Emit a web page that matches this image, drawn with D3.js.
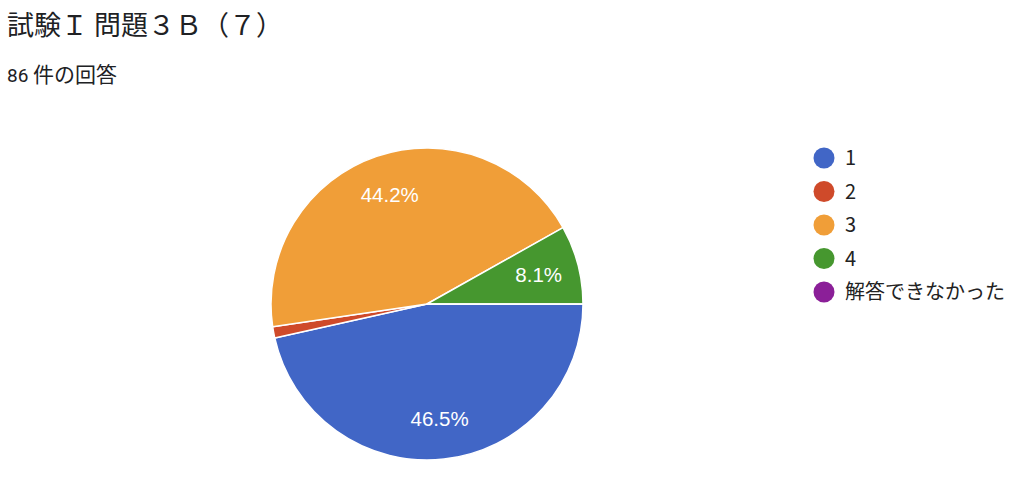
<!DOCTYPE html>
<html><head><meta charset="utf-8">
<script src="https://cdn.jsdelivr.net/npm/d3@7"></script>
<style>
html,body{margin:0;padding:0;background:#fff;}
svg{display:block;}
</style></head>
<body>
<svg id="chart" width="1024" height="479"></svg>
<script>
const titleText = "試験Ｉ 問題３Ｂ（７）";
const subtitleCount = "86 ";
const subtitleText = "件の回答";
const categories = ["1", "2", "3", "4", "解答できなかった"];
const counts = [40, 1, 38, 7, 0];
const colors = ["#4166c6", "#cf4a2a", "#f09e38", "#46972f", "#8b1f98"];

const svg = d3.select("#chart");
const cjk = "'Noto Sans CJK JP', 'Noto Sans', sans-serif";

svg.append("text").attr("x", 7).attr("y", 35)
  .attr("font-family", cjk).attr("font-size", 27).attr("fill", "#202124")
  .text(titleText);

const st = svg.append("text").attr("x", 7).attr("y", 82).attr("fill", "#202124");
st.append("tspan").attr("font-family", "Roboto, sans-serif").attr("font-size", 19)
  .style("white-space", "pre").text(subtitleCount);
st.append("tspan").attr("font-family", cjk).attr("font-size", 21).text(subtitleText);

const cx = 427, cy = 304, r = 156;
const total = d3.sum(counts);
const pie = d3.pie().sort(null).value(d => d)
  .startAngle(Math.PI / 2).endAngle(Math.PI / 2 + 2 * Math.PI);
const arcs = pie(counts);
const arc = d3.arc().innerRadius(0).outerRadius(r);
const labelArc = d3.arc().innerRadius(r * 0.74).outerRadius(r * 0.74);

const g = svg.append("g").attr("transform", `translate(${cx},${cy})`);
g.selectAll("path").data(arcs).join("path")
  .attr("d", arc)
  .attr("fill", (d, i) => colors[i])
  .attr("stroke", "#fff").attr("stroke-width", 1.5).attr("stroke-linejoin", "round");

const fmt = v => (v / total * 100).toFixed(1) + "%";
g.selectAll("text.lbl").data(arcs.filter(d => d.value / total > 0.05)).join("text")
  .attr("class", "lbl")
  .attr("transform", d => `translate(${labelArc.centroid(d)})`)
  .attr("text-anchor", "middle").attr("dy", "0.36em")
  .attr("font-family", "'Liberation Sans', Arial, sans-serif").attr("font-size", 20.5)
  .attr("fill", "#fff")
  .text(d => fmt(d.value));

const legendY = d3.scalePoint().domain(categories).range([158, 292]);
const items = svg.append("g").selectAll("g").data(categories).join("g")
  .attr("transform", d => `translate(824,${legendY(d)})`);
items.append("circle").attr("r", 10.5).attr("fill", (d, i) => colors[i]);
items.append("text").attr("x", 21).attr("dy", "0.36em")
  .attr("font-family", cjk).attr("font-size", 20).attr("fill", "#222")
  .text(d => d);
</script>
</body></html>
